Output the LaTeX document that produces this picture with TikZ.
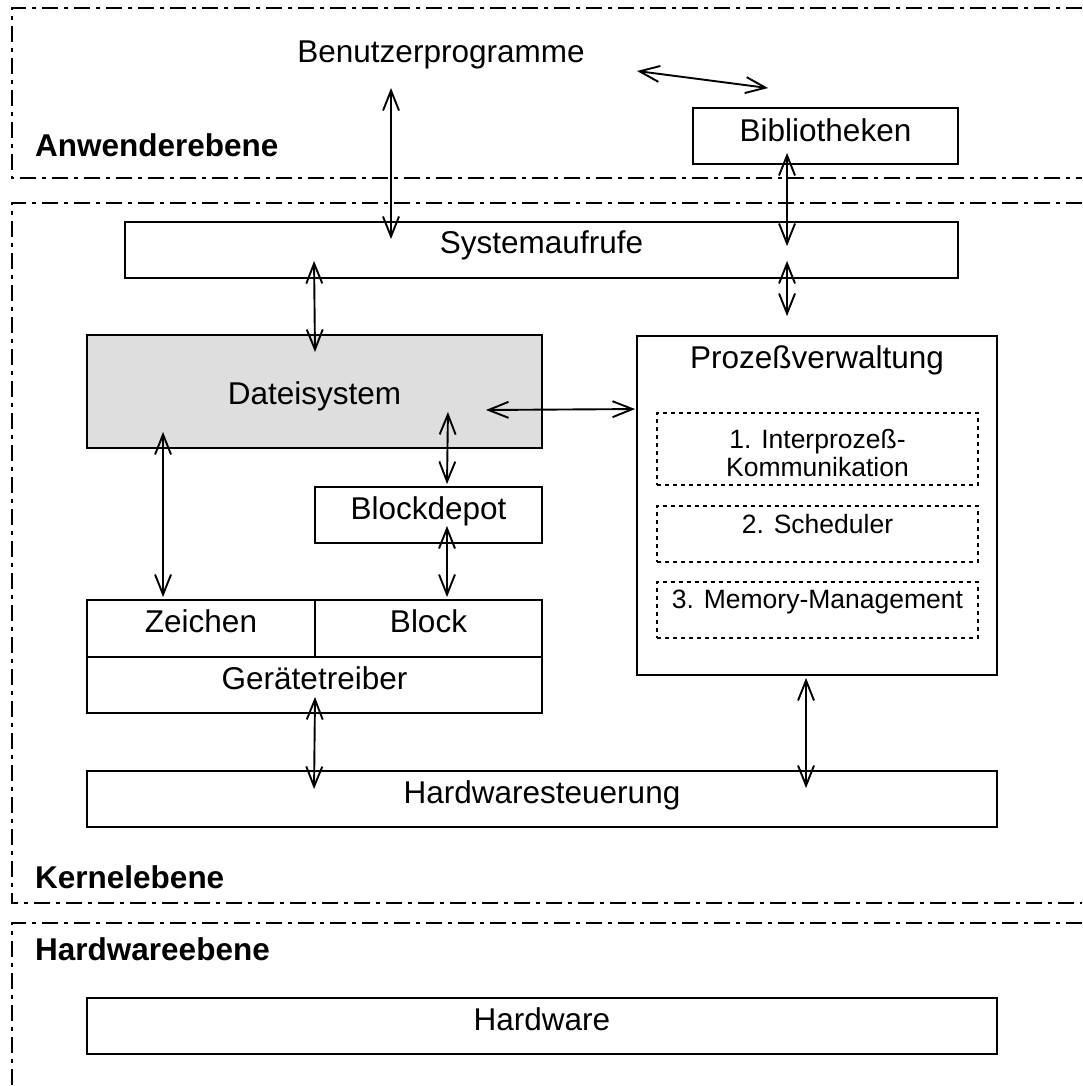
\documentclass[tikz,border=0pt]{standalone}
\usepackage{fontspec}
\setmainfont{Liberation Sans}
\usetikzlibrary{arrows.meta,calc}
\definecolor{fsgray}{RGB}{222,222,222}
\begin{document}
\begin{tikzpicture}[x=1pt,y=-1pt,
  box/.style={draw, line width=1.9pt, inner sep=0pt,
    font=\fontsize{31.5}{34}\selectfont, text height=22pt, text depth=14pt},
  sub/.style={draw, line width=1.9pt, dash pattern=on 4pt off 4pt, inner sep=0pt,
    font=\fontsize{26.5}{28}\selectfont, minimum width=321pt},
  layer/.style={line width=2.2pt, dash pattern=on 16pt off 6pt on 4pt off 6pt},
  layername/.style={anchor=base west, inner sep=0pt,
    font=\fontsize{31.5}{34}\selectfont\bfseries},
  link/.style={line width=1.9pt,
    {Straight Barb[length=20pt,width=16pt]}-{Straight Barb[length=20pt,width=16pt]}}
]
\useasboundingbox (0,0) rectangle (1082,1086);

% layer frames, open on the right
\draw[layer] (1082,8) -- (12,8) -- (12,178) -- (1082,178);
\draw[layer] (1082,203) -- (12,203) -- (12,903) -- (1082,903);
\draw[layer] (1082,923) -- (12,923) -- (12,1086);

\node[layername] (anw)  at (35,157) {Anwenderebene};
\node[layername] (kern) at (35,888) {Kernelebene};
\node[layername] (hwe)  at (35,960) {Hardwareebene};

% user level
\node[anchor=base, inner sep=0pt, font=\fontsize{31.5}{34}\selectfont] (benutzer) at (441,63) {Benutzerprogramme};
\node[box, minimum width=265pt, minimum height=56pt, text depth=10pt] (bib) at (825.5,136) {Bibliotheken};

% kernel level
\node[box, minimum width=833pt, minimum height=56pt, text depth=16pt] (sys) at (541.5,250) {Systemaufrufe};
\node[box, fill=fsgray, minimum width=455pt, minimum height=113pt, text height=30pt, text depth=5pt] (dat) at (314.5,391.5) {Dateisystem};
\node[box, minimum width=360pt, minimum height=339pt, text depth=297pt] (proz) at (817,505.5) {Prozeßverwaltung};
\node[sub, minimum height=72pt, align=center, text height=54pt, text depth=0pt] (ipc) at (817.5,449) {1. Interprozeß-\\Kommunikation};
\node[sub, minimum height=56pt, text height=19pt, text depth=21pt] (sched) at (817.5,534) {2. Scheduler};
\node[sub, minimum height=56pt, text height=19pt, text depth=23pt] (mem) at (817.5,610) {3. Memory-Management};
\node[box, minimum width=227pt, minimum height=56pt] (depot) at (428.5,515) {Blockdepot};
\node[box, minimum width=228pt, minimum height=57pt] (zeichen) at (201,628.5) {Zeichen};
\node[box, minimum width=227pt, minimum height=57pt] (block) at (428.5,628.5) {Block};
\node[box, minimum width=455pt, minimum height=56pt] (geraet) at (314.5,685) {Gerätetreiber};
\node[box, minimum width=910pt, minimum height=56pt] (hws) at (542,799) {Hardwaresteuerung};

% hardware level
\node[box, minimum width=910pt, minimum height=56pt] (hw) at (542,1026) {Hardware};

% connections
\draw[link] ($(benutzer.base)+(-50,25)$) -- ($(sys.north)+(-150.5,18)$);
\draw[link] ($(benutzer.base)+(196,8)$) -- ($(bib.north west)+(76,-19)$);
\draw[link] ($(bib.south west)+(95,-12)$) -- ($(sys.north west)+(663,25)$);
\draw[link] ($(sys.south west)+(663,-18)$) -- ($(proz.north west)+(151,-19)$);
\draw[link] ($(sys.south west)+(190,-18)$) -- ($(dat.north)+(0.5,18)$);
\draw[link] ($(dat.east)+(-57,18.5)$) -- ($(proz.north west)+(-1,74)$);
\draw[link] ($(dat.south east)+(-95,-37)$) -- ($(depot.north)+(18.5,-2)$);
\draw[link] ($(depot.south)+(18.5,-18)$) -- ($(block.north)+(18.5,-2)$);
\draw[link] ($(dat.south west)+(77,-17)$) -- ($(zeichen.north west)+(77,-2)$);
\draw[link] ($(geraet.south)+(0.5,-17)$) -- ($(hws.north west)+(228,19)$);
\draw[link] ($(proz.south west)+(170,2)$) -- ($(hws.north west)+(720,18)$);
\end{tikzpicture}
\end{document}
